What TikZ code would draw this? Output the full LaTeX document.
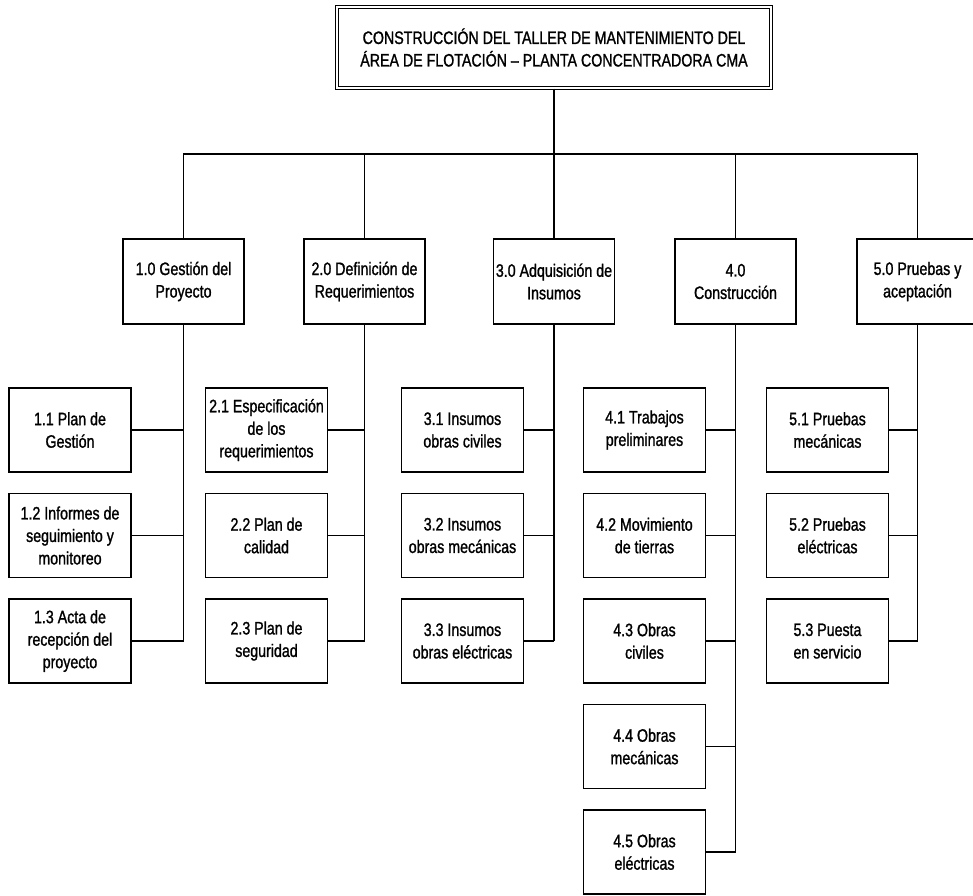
\documentclass[tikz,border=0pt]{standalone}
\usepackage{fontspec}
\setmainfont[FakeStretch=0.79,FakeBold=1.2]{Liberation Sans}
\begin{document}
\begin{tikzpicture}[x=1pt,y=-1pt,
  box/.style={draw, line width=1.3pt, minimum width=122pt, minimum height=84pt,
    inner sep=1pt, align=center, font=\fontsize{18}{22.5}\selectfont},
  topbox/.style={box, double, double distance=2pt, line width=1.1pt,
    minimum width=434pt, minimum height=81pt},
  lvlone/.style={box, minimum width=121pt, minimum height=85pt},
  link/.style={line width=1.2pt}]
\useasboundingbox (0,0) rectangle (973,895);

% top
\node[topbox] (top) at (554,47.5) {CONSTRUCCIÓN DEL TALLER DE MANTENIMIENTO DEL\\ÁREA DE FLOTACIÓN – PLANTA CONCENTRADORA CMA};

% level 1
\node[lvlone] (g1) at (183.5,281.5) {1.0 Gestión del\\Proyecto};
\node[lvlone] (g2) at (364.5,281.5) {2.0 Definición de\\Requerimientos};
\node[lvlone] (g3) at (554,281.5) {3.0 Adquisición de\\Insumos};
\node[lvlone] (g4) at (735.5,281.5) {4.0\\Construcción};
\node[lvlone] (g5) at (917.5,281.5) {5.0 Pruebas y\\aceptación};

% level 2
\node[box] (a1) at (70,430) {1.1 Plan de\\Gestión};
\node[box] (a2) at (70,535.5) {1.2 Informes de\\seguimiento y\\monitoreo};
\node[box] (a3) at (70,641) {1.3 Acta de\\recepción del\\proyecto};

\node[box] (b1) at (266.5,430) {2.1 Especificación\\de los\\requerimientos};
\node[box] (b2) at (266.5,535.5) {2.2 Plan de\\calidad};
\node[box] (b3) at (266.5,641) {2.3 Plan de\\seguridad};

\node[box] (c1) at (462.5,430) {3.1 Insumos\\obras civiles};
\node[box] (c2) at (462.5,535.5) {3.2 Insumos\\obras mecánicas};
\node[box] (c3) at (462.5,641) {3.3 Insumos\\obras eléctricas};

\node[box] (d1) at (644.5,430) {4.1 Trabajos\\preliminares};
\node[box] (d2) at (644.5,535.5) {4.2 Movimiento\\de tierras};
\node[box] (d3) at (644.5,641) {4.3 Obras\\civiles};
\node[box] (d4) at (644.5,746.5) {4.4 Obras\\mecánicas};
\node[box] (d5) at (644.5,852) {4.5 Obras\\eléctricas};

\node[box] (e1) at (827.5,430) {5.1 Pruebas\\mecánicas};
\node[box] (e2) at (827.5,535.5) {5.2 Pruebas\\eléctricas};
\node[box] (e3) at (827.5,641) {5.3 Puesta\\en servicio};

% top connectors
\coordinate (bus) at (554,154);
\draw[link] (top.south) -- (bus);
\draw[link] (g1.north) |- (bus) -| (g5.north);
\draw[link] (g2.north) -- (g2.north |- bus);
\draw[link] (g3.north) -- (g3.north |- bus);
\draw[link] (g4.north) -- (g4.north |- bus);

% trunks
\draw[link] (g1.south) -- (g1.south |- a3.east);
\draw[link] (g2.south) -- (g2.south |- b3.east);
\draw[link] (g3.south) -- (g3.south |- c3.east);
\draw[link] (g4.south) -- (g4.south |- d5.east);
\draw[link] (g5.south) -- (g5.south |- e3.east);

% branches
\foreach \n in {a1,a2,a3} \draw[link] (\n.east) -- (\n.east -| g1.south);
\foreach \n in {b1,b2,b3} \draw[link] (\n.east) -- (\n.east -| g2.south);
\foreach \n in {c1,c2,c3} \draw[link] (\n.east) -- (\n.east -| g3.south);
\foreach \n in {d1,d2,d3,d4,d5} \draw[link] (\n.east) -- (\n.east -| g4.south);
\foreach \n in {e1,e2,e3} \draw[link] (\n.east) -- (\n.east -| g5.south);
\end{tikzpicture}
\end{document}
